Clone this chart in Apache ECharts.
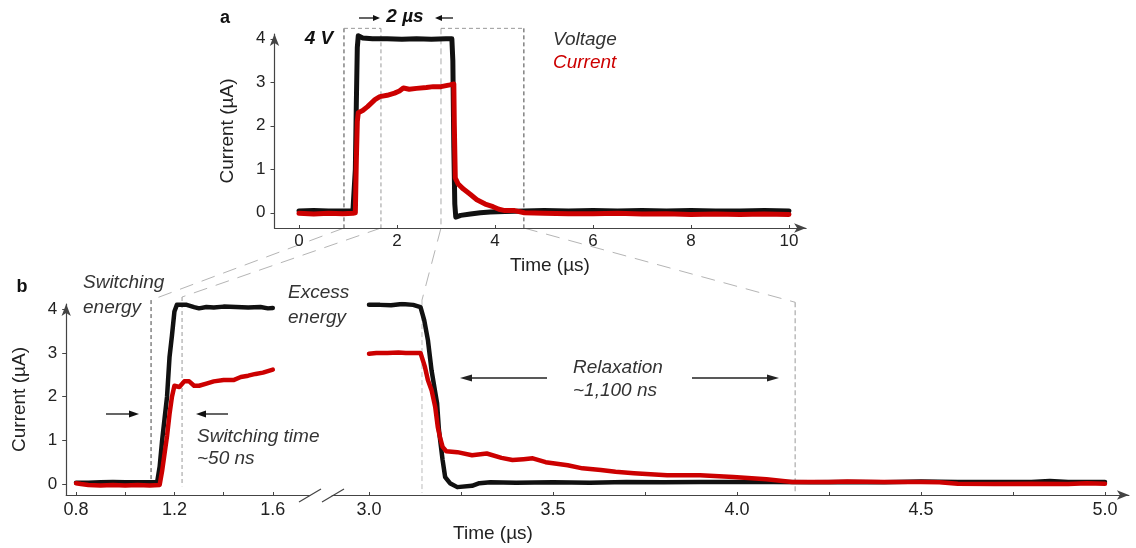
<!DOCTYPE html>
<html>
<head>
<meta charset="utf-8">
<script src="https://cdn.jsdelivr.net/npm/echarts@6/dist/echarts.min.js"></script>
<style>html,body{margin:0;padding:0;background:#fff}#c{width:1136px;height:548px}</style>
</head>
<body>
<div id="c"></div>
<script>
// ---------- data (time in µs, current in µA) ----------
const panelAVoltage = [[0,0.04],[0.3,0.05],[0.6,0.04],[0.9,0.04],[1.1,0.04],[1.13,0.05],[1.15,1.0],[1.17,2.5],[1.19,3.8],[1.21,4.07],[1.3,4.02],[1.5,4.0],[1.8,4.0],[2.1,3.99],[2.4,4.0],[2.7,3.99],[3.0,4.0],[3.12,4.0],[3.14,3.5],[3.16,1.5],[3.18,0.2],[3.2,-0.1],[3.3,-0.06],[3.5,-0.03],[3.7,0.0],[3.9,0.02],[4.2,0.03],[4.6,0.04],[5,0.05],[5.5,0.04],[6,0.05],[6.5,0.04],[7,0.05],[7.5,0.04],[8,0.05],[8.5,0.04],[9,0.04],[9.5,0.05],[10,0.04]];
const panelACurrent = [[0,-0.01],[0.3,-0.03],[0.6,-0.01],[0.9,-0.02],[1.1,-0.01],[1.15,0.0],[1.17,1.2],[1.19,2.1],[1.21,2.3],[1.3,2.35],[1.4,2.44],[1.55,2.6],[1.65,2.67],[1.8,2.7],[1.95,2.75],[2.05,2.8],[2.13,2.87],[2.25,2.84],[2.4,2.86],[2.6,2.88],[2.74,2.9],[2.9,2.9],[3.08,2.94],[3.16,2.96],[3.17,2.0],[3.19,0.8],[3.25,0.66],[3.35,0.55],[3.5,0.42],[3.63,0.3],[3.8,0.2],[3.96,0.14],[4.08,0.08],[4.2,0.05],[4.4,0.05],[4.6,0.0],[5,-0.01],[5.5,-0.02],[6,-0.02],[6.5,-0.01],[7,-0.03],[7.5,-0.02],[8,-0.04],[8.5,-0.03],[9,-0.04],[9.5,-0.03],[10,-0.04]];
const panelBLeftVoltage = [[0.8,0.03],[0.85,0.03],[0.9,0.04],[0.95,0.05],[1.0,0.04],[1.05,0.04],[1.1,0.04],[1.13,0.05],[1.14,0.4],[1.15,1.0],[1.16,1.5],[1.17,2.0],[1.18,2.9],[1.19,3.4],[1.2,3.95],[1.21,4.1],[1.23,4.1],[1.25,4.1],[1.28,4.05],[1.3,4.02],[1.33,4.05],[1.36,4.04],[1.4,4.06],[1.45,4.05],[1.5,4.04],[1.55,4.05],[1.58,4.02],[1.6,4.03]];
const panelBLeftCurrent = [[0.8,0.02],[0.82,0.0],[0.85,-0.02],[0.9,-0.03],[0.95,-0.02],[1.0,-0.03],[1.05,-0.02],[1.1,-0.03],[1.14,-0.02],[1.15,0.3],[1.16,0.7],[1.17,1.1],[1.18,1.6],[1.19,2.0],[1.2,2.25],[1.22,2.22],[1.24,2.35],[1.26,2.35],[1.28,2.25],[1.3,2.25],[1.33,2.3],[1.36,2.35],[1.4,2.38],[1.44,2.38],[1.47,2.45],[1.5,2.48],[1.53,2.52],[1.56,2.55],[1.6,2.62]];
const panelBRightVoltage = [[3.0,4.1],[3.03,4.1],[3.06,4.09],[3.09,4.12],[3.12,4.1],[3.14,4.05],[3.15,3.75],[3.16,3.3],[3.17,2.6],[3.18,2.1],[3.185,1.85],[3.19,1.24],[3.2,0.55],[3.207,0.16],[3.22,0.02],[3.24,-0.07],[3.28,-0.04],[3.3,0.02],[3.33,0.04],[3.4,0.03],[3.5,0.04],[3.6,0.03],[3.7,0.05],[3.8,0.04],[3.9,0.05],[4.0,0.05],[4.1,0.05],[4.2,0.04],[4.3,0.05],[4.4,0.04],[4.5,0.06],[4.6,0.05],[4.7,0.05],[4.8,0.05],[4.85,0.07],[4.9,0.05],[5.0,0.05]];
const panelBRightCurrent = [[3.0,2.98],[3.02,3.0],[3.05,3.0],[3.08,3.01],[3.1,3.0],[3.14,3.0],[3.152,2.68],[3.16,2.38],[3.17,2.15],[3.18,1.76],[3.187,1.3],[3.193,1.07],[3.2,0.85],[3.21,0.75],[3.24,0.73],[3.28,0.66],[3.32,0.7],[3.36,0.6],[3.39,0.55],[3.42,0.57],[3.445,0.59],[3.48,0.5],[3.54,0.43],[3.58,0.36],[3.63,0.32],[3.67,0.28],[3.72,0.25],[3.81,0.2],[3.9,0.2],[3.99,0.16],[4.08,0.11],[4.15,0.05],[4.25,0.05],[4.3,0.06],[4.4,0.05],[4.5,0.05],[4.55,0.04],[4.6,0.01],[4.7,0.0],[4.8,0.01],[4.9,0.0],[4.95,0.02],[5.0,0.01]];

const yTicks = [0, 1, 2, 3, 4];
const panelAXTicks = [0, 2, 4, 6, 8, 10];
const bLeftLabels = [0.8, 1.2, 1.6];
const bLeftTicks = [0.8, 1.0, 1.2, 1.4, 1.6];
const bRightLabels = [3.0, 3.5, 4.0, 4.5, 5.0];
const bRightTicks = [3.0, 3.25, 3.5, 3.75, 4.0, 4.25, 4.5, 4.75, 5.0];

// ---------- chart ----------
const FONT = '"Liberation Sans", Arial, sans-serif';
const AXC = '#444';
const BLACK = '#111';
const RED = '#cc0000';
const chart = echarts.init(document.getElementById('c'), null, {renderer: 'canvas'});

function xAx(grid, min, max, labels, ticks, arrow, fs, margin) {
  return {
    type: 'value', gridIndex: grid, min: min, max: max,
    axisLine: {show: true, onZero: false, lineStyle: {color: AXC, width: 1.2}, symbol: arrow ? ['none', 'arrow'] : ['none', 'none'], symbolSize: [7, 12]},
    axisTick: {show: true, inside: true, length: 3, lineStyle: {color: AXC}, customValues: ticks},
    axisLabel: {show: true, customValues: labels, color: '#222', fontSize: fs, fontFamily: FONT, margin: margin,
      formatter: v => (grid === 0 ? String(Math.round(v)) : Number(v).toFixed(1))},
    splitLine: {show: false}
  };
}
function yAx(grid, min, max, show) {
  return {
    type: 'value', gridIndex: grid, min: min, max: max, show: show,
    name: 'Current (µA)', nameLocation: 'middle', nameGap: 37,
    nameTextStyle: {color: '#222', fontSize: 19, fontFamily: FONT},
    axisLine: {show: true, onZero: false, lineStyle: {color: AXC, width: 1.2}, symbol: ['none', 'arrow'], symbolSize: [7, 12]},
    axisTick: {show: true, length: 4, lineStyle: {color: AXC}, customValues: yTicks},
    axisLabel: {show: true, customValues: yTicks, color: '#222', fontSize: 17, fontFamily: FONT, margin: 9},
    splitLine: {show: false}
  };
}
function ser(data, xi, color, w) {
  return {type: 'line', data: data, xAxisIndex: xi, yAxisIndex: xi, showSymbol: false, symbol: 'none',
    lineStyle: {color: color, width: w, cap: 'round', join: 'round'}, itemStyle: {color: color}, animation: false, silent: true};
}

const option = {
  animation: false,
  backgroundColor: '#fff',
  textStyle: {fontFamily: FONT},
  grid: [
    {left: 274.5, top: 34, width: 531.6, height: 194, outerBoundsMode: 'none', containLabel: false},
    {left: 66.2, top: 304, width: 243.5, height: 191, outerBoundsMode: 'none', containLabel: false},
    {left: 332.2, top: 304, width: 796.7, height: 191, outerBoundsMode: 'none', containLabel: false}
  ],
  xAxis: [
    xAx(0, -0.5, 10.35, panelAXTicks, panelAXTicks, true, 17, 5),
    xAx(1, 0.76, 1.75, bLeftLabels, bLeftTicks, false, 18, 6),
    xAx(2, 2.9, 5.065, bRightLabels, bRightTicks, true, 18, 6)
  ],
  yAxis: [
    yAx(0, -0.35, 4.11, true),
    yAx(1, -0.25, 4.12, true),
    yAx(2, -0.25, 4.12, false)
  ],
  series: [
    ser(panelAVoltage, 0, BLACK, 5),
    ser(panelACurrent, 0, RED, 5),
    ser(panelBLeftVoltage, 1, BLACK, 4.5),
    ser(panelBLeftCurrent, 1, RED, 4.5),
    ser(panelBRightVoltage, 2, BLACK, 4.5),
    ser(panelBRightCurrent, 2, RED, 4.5)
  ]
};
chart.setOption(option);

// ---------- annotations ----------
function P(g, x, y) { return chart.convertToPixel({gridIndex: g}, [x, y]); }
function dline(a, b, color, dash, w) {
  return {type: 'line', silent: true, shape: {x1: a[0], y1: a[1], x2: b[0], y2: b[1]},
    style: {stroke: color, lineWidth: w || 1, lineDash: dash}};
}
function arrow(x1, y1, x2, y2, len, wid, color) {
  const L = Math.hypot(x2 - x1, y2 - y1), ux = (x2 - x1) / L, uy = (y2 - y1) / L;
  const bx = x2 - ux * len, by = y2 - uy * len, px = -uy, py = ux;
  return [
    {type: 'line', silent: true, shape: {x1: x1, y1: y1, x2: bx, y2: by}, style: {stroke: color, lineWidth: 1.3}},
    {type: 'polygon', silent: true, shape: {points: [[x2, y2], [bx + px * wid / 2, by + py * wid / 2], [bx - px * wid / 2, by - py * wid / 2]]}, style: {fill: color}}
  ];
}
function txt(x, y, s, font, color, align) {
  return {type: 'text', silent: true, x: x, y: y,
    style: {text: s, font: font, fill: color, align: align || 'left', verticalAlign: 'middle'}};
}
const IT = 'italic 19px ' + FONT;
const BI = 'italic bold 19px ' + FONT;
const TXT = '#333';

const g = [];
// panel a dashed boxes
const boxTop = 4.24, boxBot = -0.35;
const b1l = 0.918, b1r = 1.673, b2l = 2.898, b2r = 4.59;
g.push(dline(P(0, b1l, boxTop), P(0, b1l, boxBot), '#444', [4, 3]));
g.push(dline(P(0, b1r, boxTop), P(0, b1r, boxBot), '#999', [4, 3]));
g.push(dline(P(0, b1l, boxTop), P(0, b1r, boxTop), '#999', [4, 3]));
g.push(dline(P(0, b2l, boxTop), P(0, b2l, boxBot), '#aaa', [6, 4]));
g.push(dline(P(0, b2r, boxTop), P(0, b2r, boxBot), '#444', [4, 3]));
g.push(dline(P(0, b2l, boxTop), P(0, b2r, boxTop), '#999', [4, 3]));
// connectors to panel b
const cDash = [14, 9], cCol = '#b5b5b5';
g.push(dline(P(0, b1l, boxBot), P(1, 1.105, 4.21), cCol, cDash));
g.push(dline(P(0, b1r, boxBot), P(1, 1.231, 4.28), cCol, cDash));
g.push(dline(P(0, b2l, boxBot), P(2, 3.144, 4.21), cCol, cDash));
g.push(dline(P(0, b2r, boxBot), P(2, 4.158, 4.16), cCol, cDash));
// panel b verticals
g.push(dline(P(1, 1.105, 4.21), P(1, 1.105, 0), '#444', [4, 3]));
g.push(dline(P(1, 1.231, 4.28), P(1, 1.231, -0.05), '#999', [4, 3]));
g.push(dline(P(2, 3.144, 4.21), P(2, 3.144, -0.2), '#bbb', [5, 3]));
g.push(dline(P(2, 4.158, 4.16), P(2, 4.158, -0.2), '#999', [5, 3]));
// axis break marks
g.push(dline([299, 502], [321, 489], '#444', null, 1.2));
g.push(dline([322, 502], [344, 489], '#444', null, 1.2));
// panel labels & texts
g.push(txt(225, 18, 'a', 'bold 18px ' + FONT, '#111', 'center'));
g.push(txt(22, 287, 'b', 'bold 18px ' + FONT, '#111', 'center'));
g.push(txt(319, 39, '4 V', BI, '#111', 'center'));
g.push(txt(405, 17, '2 µs', BI, '#111', 'center'));
g.push(...arrow(359, 18, 380, 18, 7, 6, '#111'));
g.push(...arrow(453, 18, 435, 18, 7, 6, '#111'));
g.push(txt(553, 40, 'Voltage', IT, TXT));
g.push(txt(553, 63, 'Current', IT, RED));
g.push(txt(550, 266, 'Time (µs)', '19px ' + FONT, '#222', 'center'));
g.push(txt(493, 534, 'Time (µs)', '19px ' + FONT, '#222', 'center'));
g.push(txt(83, 283, 'Switching', IT, TXT));
g.push(txt(83, 308, 'energy', IT, TXT));
g.push(txt(288, 293, 'Excess', IT, TXT));
g.push(txt(288, 318, 'energy', IT, TXT));
g.push(...arrow(106, 414, 139, 414, 10, 7, '#111'));
g.push(...arrow(228, 414, 196, 414, 10, 7, '#111'));
g.push(txt(197, 437, 'Switching time', IT, TXT));
g.push(txt(197, 459, '~50 ns', IT, TXT));
g.push(txt(573, 368, 'Relaxation', IT, TXT));
g.push(txt(573, 391, '~1,100 ns', IT, TXT));
g.push(...arrow(547, 378, 460, 378, 12, 7, '#222'));
g.push(...arrow(692, 378, 779, 378, 12, 7, '#222'));

chart.setOption({graphic: {elements: g}});
</script>
</body>
</html>
